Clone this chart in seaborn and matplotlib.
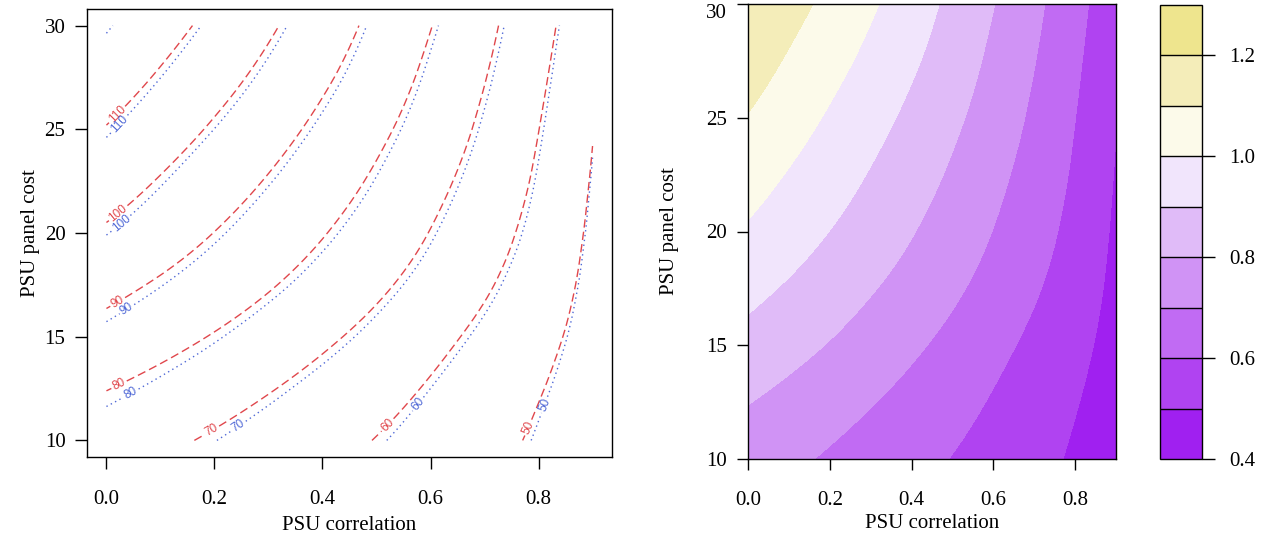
import numpy as np
import matplotlib
matplotlib.use("Agg")
import matplotlib.pyplot as plt
import matplotlib.tri as mtri
import seaborn as sns

# ---------------- data ----------------
psu_correlation = [0.0, 0.1, 0.2, 0.3, 0.4, 0.5, 0.6, 0.7, 0.8, 0.9]
psu_panel_cost = [10.0, 12.5, 15.0, 17.5, 20.0, 22.5, 25.0, 27.5, 30.0]

# rows follow psu_panel_cost, columns follow psu_correlation
n_red = [
    [74.45, 71.75, 68.94, 66.02, 62.95, 59.73, 56.33, 52.71, 48.82, 44.59],
    [80.27, 77.16, 73.91, 70.52, 66.96, 63.19, 59.19, 54.89, 50.50, 45.60],
    [86.63, 83.13, 79.47, 75.63, 71.59, 67.31, 62.73, 57.79, 52.60, 46.60],
    [92.78, 88.94, 84.93, 80.72, 76.27, 71.55, 66.49, 61.02, 54.90, 47.60],
    [98.83, 94.44, 89.88, 85.25, 80.45, 75.30, 69.75, 63.75, 56.90, 48.50],
    [104.37, 99.42, 94.45, 89.40, 84.20, 78.70, 72.60, 66.20, 58.60, 49.40],
    [109.59, 104.35, 98.94, 93.50, 87.80, 81.90, 75.40, 68.30, 60.10, 50.30],
    [114.57, 109.04, 103.32, 97.50, 91.35, 85.00, 77.90, 70.30, 61.66, 51.40],
    [119.34, 113.54, 107.52, 101.25, 94.66, 87.70, 80.26, 72.19, 63.25, 52.80],
]
n_blue = [
    [76.25, 73.25, 70.14, 67.02, 63.85, 60.63, 57.13, 53.41, 49.42, 44.79],
    [82.07, 78.66, 75.11, 71.52, 67.86, 64.09, 59.99, 55.59, 51.10, 45.80],
    [88.23, 84.53, 80.67, 76.63, 72.59, 68.21, 63.63, 58.59, 53.30, 46.80],
    [94.28, 90.24, 86.03, 81.72, 77.27, 72.45, 67.39, 61.82, 55.60, 47.80],
    [100.23, 95.64, 90.98, 86.25, 81.45, 76.30, 70.65, 64.65, 57.70, 48.70],
    [105.67, 100.52, 95.45, 90.40, 85.20, 79.70, 73.50, 67.10, 59.40, 49.60],
    [110.79, 105.35, 99.94, 94.50, 88.80, 82.90, 76.30, 69.20, 60.90, 50.50],
    [115.77, 110.04, 104.32, 98.50, 92.35, 86.00, 78.80, 71.20, 62.46, 51.60],
    [120.74, 114.54, 108.52, 102.25, 95.66, 88.70, 81.16, 73.09, 64.05, 53.00],
]
relative_value = [
    [0.745, 0.718, 0.689, 0.660, 0.630, 0.597, 0.563, 0.527, 0.488, 0.446],
    [0.803, 0.772, 0.739, 0.705, 0.670, 0.632, 0.592, 0.549, 0.505, 0.456],
    [0.866, 0.831, 0.795, 0.756, 0.716, 0.673, 0.627, 0.578, 0.526, 0.466],
    [0.928, 0.889, 0.849, 0.807, 0.763, 0.716, 0.665, 0.610, 0.549, 0.476],
    [0.988, 0.944, 0.899, 0.853, 0.805, 0.753, 0.698, 0.638, 0.569, 0.485],
    [1.044, 0.994, 0.945, 0.894, 0.842, 0.787, 0.726, 0.662, 0.586, 0.494],
    [1.096, 1.044, 0.989, 0.935, 0.878, 0.819, 0.754, 0.683, 0.601, 0.503],
    [1.146, 1.090, 1.033, 0.975, 0.914, 0.850, 0.779, 0.703, 0.617, 0.514],
    [1.193, 1.135, 1.075, 1.013, 0.947, 0.877, 0.803, 0.722, 0.633, 0.528],
]

contour_levels = [50, 60, 70, 80, 90, 100, 110, 120]
labelled_levels = [50, 60, 70, 80, 90, 100, 110]
fill_levels = [0.4, 0.5, 0.6, 0.7, 0.8, 0.9, 1.0, 1.1, 1.2, 1.3]
colorbar_ticks = [0.4, 0.6, 0.8, 1.0, 1.2]
x_ticks = [0.0, 0.2, 0.4, 0.6, 0.8]
y_ticks = [10, 15, 20, 25, 30]
x_label = "PSU correlation"
y_label = "PSU panel cost"

# ---------------- style ----------------
sns.set_theme(style="ticks")
plt.rcParams["font.family"] = ["Liberation Serif", "DejaVu Serif"]
plt.rcParams["axes.edgecolor"] = "black"
plt.rcParams["axes.linewidth"] = 1.0
plt.rcParams["xtick.color"] = "black"
plt.rcParams["ytick.color"] = "black"
plt.rcParams["axes.labelcolor"] = "black"

RED = "#e0474c"
BLUE = "#4f68d6"
band_colors = ["#A020F0", "#B043F1", "#C16BF3", "#D093F5", "#E0BBF8",
               "#F1E5FC", "#FCFAEA", "#F4EDB9", "#EEE58E"]
FS = 15

W, H = 1265, 535
fig = plt.figure(figsize=(W / 100, H / 100), dpi=100)
ax1 = fig.add_axes([87 / W, 78 / H, 525 / W, 448 / H])
ax2 = fig.add_axes([748 / W, 76 / H, 368 / W, 455 / H])
cax = fig.add_axes([1160 / W, 76 / H, 42 / W, 454 / H])

# grid triangulation in index space, smoothed by matplotlib's cubic tri refiner
nx, ny = len(psu_correlation), len(psu_panel_cost)
iu, iv = np.meshgrid(np.arange(nx), np.arange(ny))
tris = []
for j in range(ny - 1):
    for i in range(nx - 1):
        a = j * nx + i
        tris.append([a, a + 1, a + nx + 1])
        tris.append([a, a + nx + 1, a + nx])
tri_idx = mtri.Triangulation(iu.ravel().astype(float), iv.ravel().astype(float), tris)
refiner = mtri.UniformTriRefiner(tri_idx)


def smooth(values):
    z = np.asarray(values, dtype=float).ravel()
    interp = mtri.CubicTriInterpolator(tri_idx, z, kind="min_E")
    tr, zr = refiner.refine_field(z, triinterpolator=interp, subdiv=3)
    xr = np.interp(tr.x, np.arange(nx), psu_correlation)
    yr = np.interp(tr.y, np.arange(ny), psu_panel_cost)
    return mtri.Triangulation(xr, yr, tr.triangles), zr


# ---------------- left: contour lines ----------------
ax1.set_xlim(-0.036, 0.936)
ax1.set_ylim(9.2, 30.8)
t_red, z_red = smooth(n_red)
t_blue, z_blue = smooth(n_blue)
cs_red = ax1.tricontour(t_red, z_red, levels=contour_levels, colors=RED,
                        linewidths=1.0, linestyles=[(0, (6, 3))])
cs_blue = ax1.tricontour(t_blue, z_blue, levels=contour_levels, colors=BLUE,
                         linewidths=1.0, linestyles=[(0, (1, 2.5))])


def label_points(cs, offsets, ax):
    pts = []
    for lev, segs in zip(cs.levels, cs.allsegs):
        if lev not in offsets or len(segs) == 0:
            continue
        seg = max(segs, key=len)
        disp = ax.transData.transform(seg)
        if (disp[-1, 0] + disp[-1, 1]) < (disp[0, 0] + disp[0, 1]):
            seg = seg[::-1]
            disp = disp[::-1]
        d = np.r_[0, np.cumsum(np.hypot(*np.diff(disp, axis=0).T))]
        target = offsets[lev]
        xd = np.interp(target, d, disp[:, 0])
        yd = np.interp(target, d, disp[:, 1])
        pts.append(tuple(ax.transData.inverted().transform((xd, yd))))
    return pts


red_off = {50: 14, 60: 22, 70: 20, 80: 14, 90: 13, 100: 15, 110: 15}
blue_off = {50: 38, 60: 48, 70: 26, 80: 28, 90: 24, 100: 19, 110: 19}

plt.rcParams["font.family"] = ["Liberation Sans", "DejaVu Sans"]
ax1.clabel(cs_red, levels=labelled_levels, manual=label_points(cs_red, red_off, ax1),
           inline=True, inline_spacing=2, fmt="%d", fontsize=8.5, colors=RED)
ax1.clabel(cs_blue, levels=labelled_levels, manual=label_points(cs_blue, blue_off, ax1),
           inline=True, inline_spacing=2, fmt="%d", fontsize=8.5, colors=BLUE)
plt.rcParams["font.family"] = ["Liberation Serif", "DejaVu Serif"]

ax1.set_xticks(x_ticks)
ax1.set_xticklabels([f"{v:.1f}" for v in x_ticks])
ax1.set_yticks(y_ticks)
ax1.set_yticklabels([str(v) for v in y_ticks])
ax1.tick_params(axis="both", direction="out", length=8.5, width=1.0, labelsize=FS)
ax1.tick_params(axis="x", pad=15)
ax1.tick_params(axis="y", pad=7)
ax1.set_xlabel(x_label, fontsize=FS, labelpad=5)
ax1.set_ylabel(y_label, fontsize=FS, labelpad=3)

# ---------------- right: filled contour ----------------
t_rel, z_rel = smooth(relative_value)
cf = ax2.tricontourf(t_rel, z_rel, levels=fill_levels, colors=band_colors)
ax2.set_xlim(0, 0.9)
ax2.set_ylim(10, 30)
ax2.set_xticks(x_ticks)
ax2.set_xticklabels([f"{v:.1f}" for v in x_ticks])
ax2.set_yticks(y_ticks)
ax2.set_yticklabels([str(v) for v in y_ticks])
ax2.tick_params(axis="both", direction="out", length=8, width=1.0, labelsize=FS)
ax2.tick_params(axis="x", pad=15)
ax2.tick_params(axis="y", pad=7)
ax2.get_yticklabels()[-1].set_verticalalignment("top")
ax2.set_xlabel(x_label, fontsize=FS, labelpad=3)
ax2.set_ylabel(y_label, fontsize=FS, labelpad=20)

cb = fig.colorbar(cf, cax=cax, ticks=colorbar_ticks, drawedges=True)
cb.set_ticklabels([f"{v:.1f}" for v in colorbar_ticks])
cb.dividers.set_color("black")
cb.dividers.set_linewidth(1.0)
cb.outline.set_edgecolor("black")
cb.outline.set_linewidth(1.0)
cax.tick_params(axis="y", direction="out", length=9.5, width=1.0, pad=10, labelsize=FS)
cax.minorticks_off()

fig.savefig("out.png", dpi=100, facecolor="white")
